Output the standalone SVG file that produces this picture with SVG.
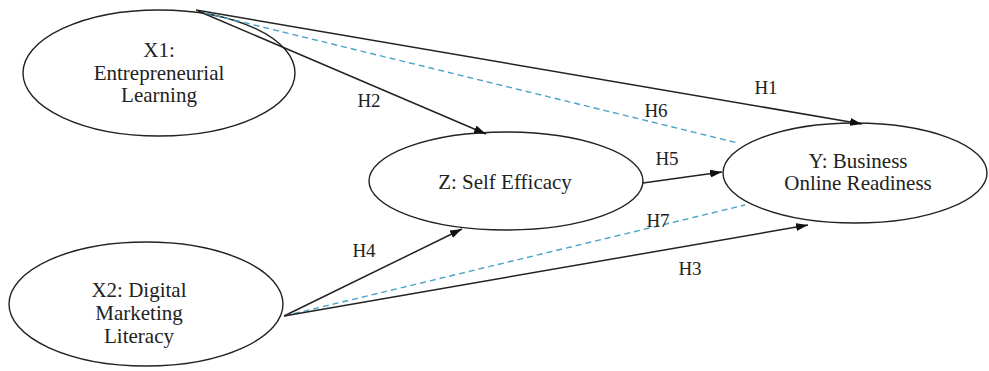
<svg xmlns="http://www.w3.org/2000/svg" width="989" height="371" viewBox="0 0 989 371">
<style>
.node{fill:#fff;stroke:#222;stroke-width:1.4}
.c{stroke:#222;stroke-width:1.5;fill:none}
.d{stroke:#4aa3c9;stroke-width:1.4;fill:none;stroke-dasharray:6 4}
</style>
<defs>
<marker id="ah" viewBox="0 0 12 8" refX="12" refY="4" markerWidth="12" markerHeight="8" markerUnits="userSpaceOnUse" orient="auto">
<path d="M0,0 L12,4 L0,8 z" fill="#111"/>
</marker>
</defs>
<rect width="989" height="371" fill="#fff"/>
<g id="x1">
<ellipse class="node" cx="159" cy="73" rx="136" ry="63"/>
<text x="159" y="57" font-family="Liberation Serif" font-size="21" fill="#222" text-anchor="middle">X1:</text>
<text x="159" y="80" font-family="Liberation Serif" font-size="21" fill="#222" text-anchor="middle">Entrepreneurial</text>
<text x="159" y="102" font-family="Liberation Serif" font-size="21" fill="#222" text-anchor="middle">Learning</text>
</g>
<g id="x2">
<ellipse class="node" cx="146" cy="304" rx="137" ry="62"/>
<text x="139" y="297" font-family="Liberation Serif" font-size="21" fill="#222" text-anchor="middle">X2: Digital</text>
<text x="139" y="320" font-family="Liberation Serif" font-size="21" fill="#222" text-anchor="middle">Marketing</text>
<text x="139" y="343" font-family="Liberation Serif" font-size="21" fill="#222" text-anchor="middle">Literacy</text>
</g>
<g id="z">
<ellipse class="node" cx="506" cy="181" rx="137" ry="49"/>
<text x="505" y="189" font-family="Liberation Serif" font-size="21" fill="#222" text-anchor="middle">Z: Self Efficacy</text>
</g>
<g id="y">
<ellipse class="node" cx="855" cy="173" rx="132" ry="50"/>
<text x="858" y="168" font-family="Liberation Serif" font-size="21" fill="#222" text-anchor="middle">Y: Business</text>
<text x="858" y="190" font-family="Liberation Serif" font-size="21" fill="#222" text-anchor="middle">Online Readiness</text>
</g>
<g id="connectors">
<line class="c" x1="196" y1="10" x2="862" y2="124" marker-end="url(#ah)"/>
<line class="c" x1="198" y1="11" x2="486" y2="134" marker-end="url(#ah)"/>
<line class="d" x1="205" y1="13" x2="738" y2="143"/>
<line class="c" x1="643" y1="183" x2="722" y2="172" marker-end="url(#ah)"/>
<line class="c" x1="284" y1="316" x2="462" y2="229" marker-end="url(#ah)"/>
<line class="d" x1="284" y1="316" x2="745" y2="205"/>
<line class="c" x1="284" y1="316" x2="808" y2="225" marker-end="url(#ah)"/>
<text x="766" y="94" font-family="Liberation Serif" font-size="19" fill="#222" text-anchor="middle">H1</text>
<text x="369" y="107" font-family="Liberation Serif" font-size="19" fill="#222" text-anchor="middle">H2</text>
<text x="656" y="117" font-family="Liberation Serif" font-size="19" fill="#222" text-anchor="middle">H6</text>
<text x="667" y="165" font-family="Liberation Serif" font-size="19" fill="#222" text-anchor="middle">H5</text>
<text x="658" y="227" font-family="Liberation Serif" font-size="19" fill="#222" text-anchor="middle">H7</text>
<text x="364" y="257" font-family="Liberation Serif" font-size="19" fill="#222" text-anchor="middle">H4</text>
<text x="690" y="275" font-family="Liberation Serif" font-size="19" fill="#222" text-anchor="middle">H3</text>
</g>
</svg>
